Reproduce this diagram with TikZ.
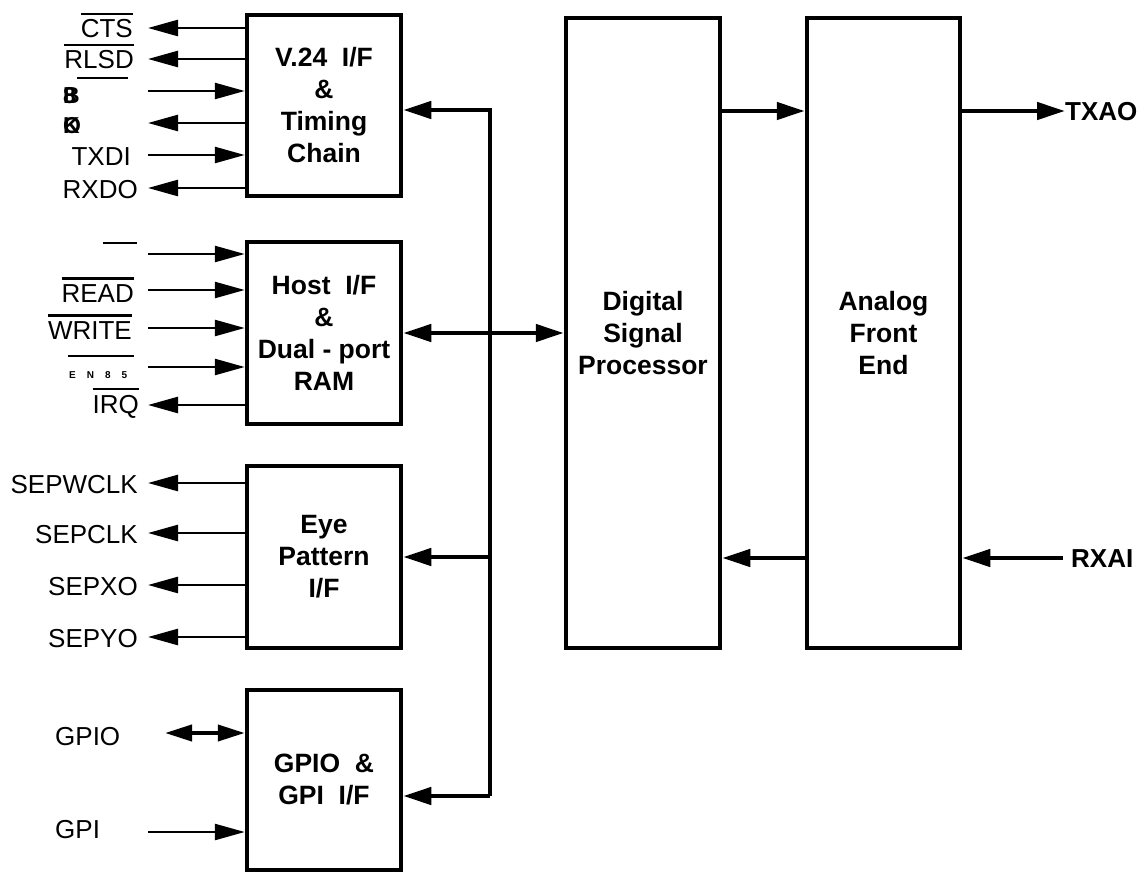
\documentclass[tikz,border=0pt]{standalone}
\usepackage{fontspec}
\setmainfont{Liberation Sans}
\usetikzlibrary{arrows.meta}
\newcommand\ovl[1]{\vbox{\hrule height 2.4pt\kern 4.5pt\hbox{#1}}}
\begin{document}
\begin{tikzpicture}[x=1pt,y=-1pt,
  box/.style={draw, line width=4.5pt, inner sep=0pt, align=center,
    font=\fontsize{26.5}{32}\selectfont\bfseries, minimum width=154pt},
  sig/.style={line width=2.6pt},
  sin/.style={sig,-{Triangle[length=30pt,width=16pt]}},
  sout/.style={sig,{Triangle[length=30pt,width=16pt]}-},
  sbi/.style={line width=4pt,{Triangle[length=27pt,width=16pt]}-{Triangle[length=27pt,width=16pt]}},
  fat/.style={line width=4.5pt, line join=miter},
  fin/.style={fat,-{Triangle[length=28pt,width=17pt]}},
  fbi/.style={fat,{Triangle[length=28pt,width=17pt]}-{Triangle[length=28pt,width=17pt]}},
  lbl/.style={font=\fontsize{26}{30}\selectfont, anchor=base east, inner sep=0pt},
  lblw/.style={font=\fontsize{26}{30}\selectfont, anchor=base west, inner sep=0pt},
  glyph/.style={font=\fontsize{23}{26}\selectfont\bfseries, anchor=base west, inner sep=0pt},
  blbl/.style={font=\fontsize{26}{30}\selectfont\bfseries, anchor=base west, inner sep=0pt},
  bar/.style={line width=2.6pt}]
\useasboundingbox (0,0) rectangle (1143,875);

% blocks
\node[box, minimum height=181pt] (v24) at (324,105.5) {V.24~~I/F\\\&\\Timing\\Chain};
\node[box, minimum height=182pt] (host) at (324,333) {Host~~I/F\\\&\\Dual - port\\RAM};
\node[box, minimum height=182pt] (eye) at (324,557) {Eye\\Pattern\\I/F};
\node[box, minimum height=180pt] (gpio) at (324,780) {GPIO~~\&\\GPI~~I/F};
\node[box, minimum height=630pt] (dsp) at (643,333) {Digital\\Signal\\Processor};
\node[box, minimum height=630pt, minimum width=153pt] (afe) at (883.5,333) {Analog\\Front\\End};

% V.24 signals
\coordinate (cts) at (148,28);
\draw[sout] (cts) -- (cts -| v24.west);
\node[lbl] (lcts) at (133,38) {\ovl{CTS}};
\coordinate (rlsd) at (148,59);
\draw[sout] (rlsd) -- (rlsd -| v24.west);
\node[lbl] (lrlsd) at (134,69) {\ovl{RLSD}};
\coordinate (s3) at (148,91);
\draw[sin] (s3) -- (s3 -| v24.west);
\node[glyph] (l3) at (63,103) {\rlap{8}B};
\coordinate (b3a) at (77,78);
\coordinate (b3b) at (128,78);
\draw[bar] (b3a) -- (b3b);
\coordinate (s4) at (148,123);
\draw[sout] (s4) -- (s4 -| v24.west);
\node[glyph] (l4) at (63,133) {\rlap{K}O};
\coordinate (txdi) at (148,155);
\draw[sin] (txdi) -- (txdi -| v24.west);
\node[lbl] (ltxdi) at (131,165) {TXDI};
\coordinate (rxdo) at (148,188);
\draw[sout] (rxdo) -- (rxdo -| v24.west);
\node[lbl] (lrxdo) at (138,198) {RXDO};

% Host signals
\coordinate (h1) at (148,254);
\draw[sin] (h1) -- (h1 -| host.west);
\coordinate (h1a) at (103,243);
\coordinate (h1b) at (137,243);
\draw[bar] (h1a) -- (h1b);
\coordinate (read) at (148,290);
\draw[sin] (read) -- (read -| host.west);
\node[lbl] (lread) at (134,302) {\ovl{READ}};
\coordinate (write) at (148,328);
\draw[sin] (write) -- (write -| host.west);
\node[lbl] (lwrite) at (132,339) {\ovl{WRITE}};
\coordinate (h4) at (148,367);
\draw[sin] (h4) -- (h4 -| host.west);
\coordinate (h4a) at (68,356);
\coordinate (h4b) at (134,356);
\draw[bar] (h4a) -- (h4b);
\node[font=\fontsize{10}{12}\selectfont\bfseries, anchor=base west, inner sep=0pt] (l4h) at (69,378) {E\hspace{11pt}N\hspace{11pt}8\hspace{11pt}5};
\coordinate (irq) at (148,405);
\draw[sout] (irq) -- (irq -| host.west);
\node[lbl] (lirq) at (139,413) {\ovl{IRQ}};

% Eye pattern signals
\coordinate (e1) at (148,483);
\draw[sout] (e1) -- (e1 -| eye.west);
\node[lbl] (le1) at (138,493) {SEPWCLK};
\coordinate (e2) at (148,533);
\draw[sout] (e2) -- (e2 -| eye.west);
\node[lbl] (le2) at (138,543) {SEPCLK};
\coordinate (e3) at (148,585);
\draw[sout] (e3) -- (e3 -| eye.west);
\node[lbl] (le3) at (138,595) {SEPXO};
\coordinate (e4) at (148,637);
\draw[sout] (e4) -- (e4 -| eye.west);
\node[lbl] (le4) at (138,647) {SEPYO};

% GPIO signals
\coordinate (gp) at (165,733);
\draw[sbi] (gp) -- (gp -| gpio.west);
\node[lblw] (lgp) at (55,745) {GPIO};
\coordinate (gpi) at (148,832);
\draw[sin] (gpi) -- (gpi -| gpio.west);
\node[lblw] (lgpi) at (55,838) {GPI};

% internal bus
\coordinate (bt) at (490,110);
\coordinate (be) at (490,557);
\coordinate (bb) at (490,796);
\draw[fin] (bb) -- (bt) -- (bt -| v24.east);
\draw[fin] (be) -- (be -| eye.east);
\draw[fin] (bb) -- (bb -| gpio.east);
\draw[fbi] (host.east) -- (host.east -| dsp.west);

% DSP / AFE
\coordinate (tx) at (0,111);
\draw[fin] (tx -| dsp.east) -- (tx -| afe.west);
\node[blbl] (txao) at (1065,120) {TXAO};
\draw[fin] (tx -| afe.east) -- (txao.west |- tx);
\coordinate (rx) at (1063,558);
\draw[fin] (rx -| afe.west) -- (rx -| dsp.east);
\node[blbl] (rxai) at (1071,567) {RXAI};
\draw[fin] (rx) -- (rx -| afe.east);
\end{tikzpicture}
\end{document}
